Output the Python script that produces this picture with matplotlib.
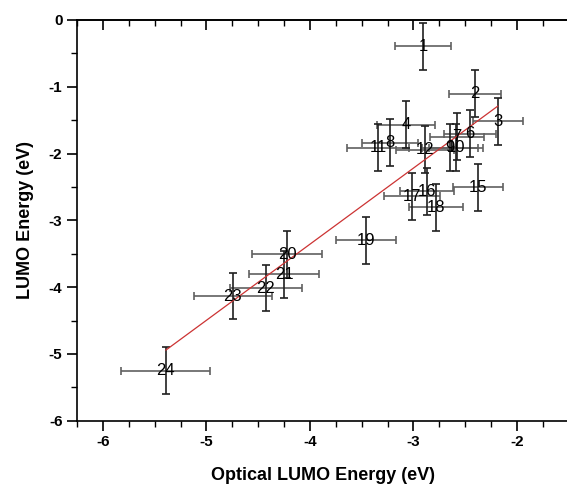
import numpy as np
import matplotlib
matplotlib.use("Agg")
import matplotlib.pyplot as plt
from matplotlib.ticker import MultipleLocator

plt.rcParams['font.family'] = ['Liberation Sans', 'DejaVu Sans']

# compound labels and energies (eV)
labels = ["1", "2", "3", "4", "6", "7", "8", "9", "10", "11", "12",
          "15", "16", "17", "18", "19", "20", "21", "22", "23", "24"]
optical_lumo = [-2.905, -2.406, -2.186, -3.07, -2.454, -2.58, -3.227, -2.647, -2.59, -3.343, -2.889,
                -2.377, -2.870, -3.014, -2.783, -3.459, -4.222, -4.251, -4.425, -4.744, -5.391]
lumo = [-0.395, -1.104, -1.52, -1.567, -1.70, -1.746, -1.84, -1.91, -1.91, -1.91, -1.94,
        -2.507, -2.567, -2.64, -2.806, -3.30, -3.51, -3.806, -4.015, -4.134, -5.254]
x_err = [0.27, 0.25, 0.24, 0.28, 0.25, 0.26, 0.27, 0.27, 0.26, 0.30, 0.28,
         0.24, 0.26, 0.27, 0.26, 0.29, 0.34, 0.34, 0.35, 0.38, 0.43]
y_err = [0.35] * len(labels)

x = np.array(optical_lumo)
y = np.array(lumo)

fig = plt.figure(figsize=(5.67, 4.86), dpi=100)
ax = fig.add_axes([0.1358, 0.1344, 0.8673, 0.8245])

ax.errorbar(x, y, xerr=x_err, fmt="none", ecolor="#606060", elinewidth=1.2,
            capsize=3, capthick=1.2)
ax.errorbar(x, y, yerr=y_err, fmt="none", ecolor="#202020", elinewidth=1.2,
            capsize=3, capthick=1.2)

b1, b0 = np.polyfit(x, y, 1)
xf = np.array([x.min(), x.max()])
ax.plot(xf, b0 + b1 * xf, color="#cc3333", lw=0.9)

for lab, xi, yi in zip(labels, x, y):
    ax.text(xi, yi, lab, fontsize=12, ha="center", va="center", color="black")

ax.set_xlim(-6.25, -1.5)
ax.set_ylim(-6, 0)
ax.xaxis.set_major_locator(MultipleLocator(1))
ax.xaxis.set_minor_locator(MultipleLocator(0.25))
ax.yaxis.set_major_locator(MultipleLocator(1))
ax.yaxis.set_minor_locator(MultipleLocator(0.5))
ax.xaxis.set_major_formatter(lambda v, p: "%d" % round(v))
ax.yaxis.set_major_formatter(lambda v, p: "%d" % round(v))
ax.spines["right"].set_visible(False)
ax.tick_params(axis="both", which="major", length=7, width=1.2, labelsize=11)
ax.tick_params(axis="both", which="minor", length=4, width=1.0)
for t in ax.get_xticklabels() + ax.get_yticklabels():
    t.set_fontweight("bold")
for s in ax.spines.values():
    s.set_linewidth(1.2)

# top axis: ticks pointing inward, no labels
top = ax.secondary_xaxis("top")
top.xaxis.set_major_locator(MultipleLocator(1))
top.xaxis.set_minor_locator(MultipleLocator(0.25))
top.tick_params(which="major", direction="in", length=7, width=1.2, labeltop=False)
top.tick_params(which="minor", direction="in", length=4, width=1.0)
top.spines["top"].set_linewidth(1.2)

ax.set_xlabel("Optical LUMO Energy (eV)", fontsize=13, fontweight="bold", labelpad=13)
ax.set_ylabel("LUMO Energy (eV)", fontsize=13, fontweight="bold", labelpad=11)

fig.savefig("out.png", dpi=100)
